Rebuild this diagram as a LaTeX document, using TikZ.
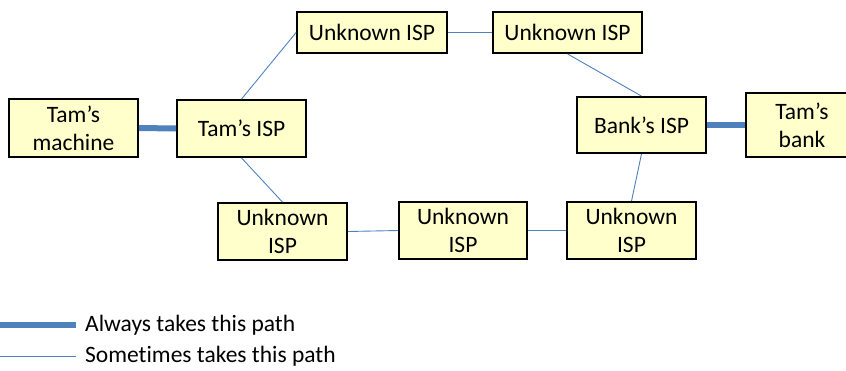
\documentclass[tikz,border=0pt]{standalone}
\usepackage{fontspec}
\setmainfont[Ligatures=CommonOff]{Carlito}
\begin{document}
\begin{tikzpicture}[x=1pt,y=-1pt,
  box/.style={draw=black, line width=1.8pt, fill=boxfill, inner sep=0pt, align=center,
    font=\fontsize{23.5}{28}\selectfont},
  thin/.style={draw=linkblue, line width=0.9pt},
  thick/.style={draw=linkblue, line width=6pt},
  legtext/.style={anchor=base west, inner sep=0pt, font=\fontsize{23.5}{28}\selectfont}]
\definecolor{boxfill}{HTML}{FFFFCC}
\definecolor{linkblue}{HTML}{4F81BD}
\useasboundingbox (0,0) rectangle (846,370);
\node[box, minimum width=129, minimum height=58] (m) at (73.5,128) {Tam’s\\machine};
\node[box, minimum width=129, minimum height=57] (tisp) at (241.5,128.5) {Tam’s ISP};
\node[box, minimum width=150, minimum height=41] (u1) at (372,32.5) {Unknown ISP};
\node[box, minimum width=149, minimum height=41] (u2) at (567.5,32.5) {Unknown ISP};
\node[box, minimum width=129, minimum height=56] (bisp) at (641.5,125) {Bank’s ISP};
\node[box, minimum width=112, minimum height=64] (bank) at (802,125) {Tam’s\\bank};
\node[box, minimum width=129, minimum height=57] (b1) at (282.5,231.5) {Unknown\\ISP};
\node[box, minimum width=128, minimum height=57] (b2) at (463,230.5) {Unknown\\ISP};
\node[box, minimum width=129, minimum height=57] (b3) at (631.5,230.5) {Unknown\\ISP};
\draw[thick] (m.east) -- (tisp.west);
\draw[thick] (bisp.east) -- (bank.west);
\draw[thin] (tisp.north) -- (u1.west);
\draw[thin] (u1.east) -- (u2.west);
\draw[thin] (u2.south) -- (bisp.north);
\draw[thin] (bisp.south) -- (b3.north);
\draw[thin] (tisp.south) -- (b1.north);
\draw[thin] (b1.east) -- (b2.west);
\draw[thin] (b2.east) -- (b3.west);
\coordinate (la1) at (0,325);
\coordinate (la2) at (76,325);
\coordinate (ls1) at (0,356);
\coordinate (ls2) at (76,356);
\draw[thick] (la1) -- (la2);
\draw[thin] (ls1) -- (ls2);
\node[legtext] (lt1) at (85,331) {Always takes this path};
\node[legtext] (lt2) at (85,362) {Sometimes takes this path};
\end{tikzpicture}
\end{document}
